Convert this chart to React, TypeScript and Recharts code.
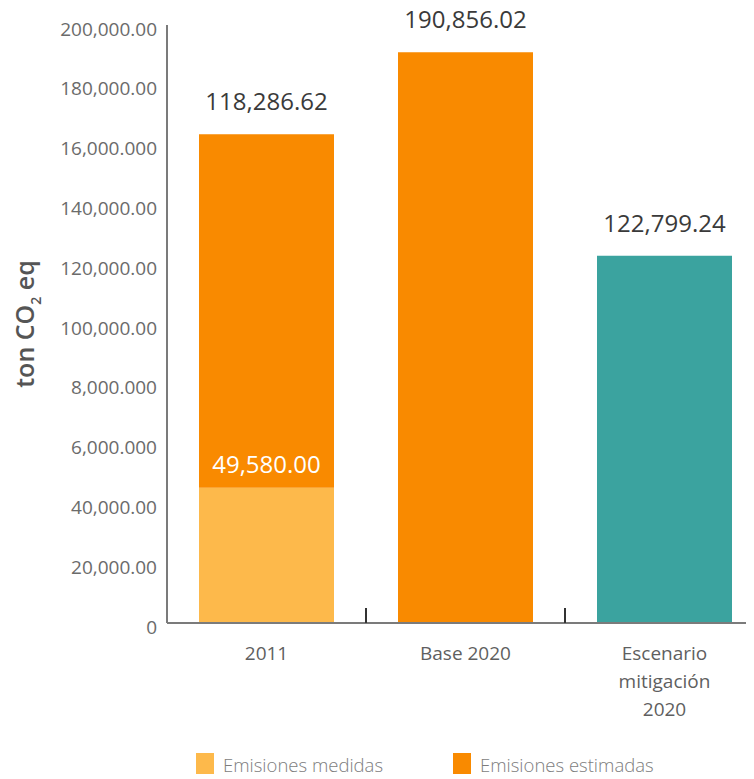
import { Bar, BarChart, Cell, LabelList, Legend, XAxis, YAxis } from "recharts"

const categories = ["2011", "Base 2020", "Escenario\nmitigación\n2020"]
const seriesNames = ["Emisiones medidas", "Emisiones estimadas"]
const medidas = [45200, 0, 0]
const estimadas = [118286.62, 190856.02, 122799.24]
const medidasLabels = ["49,580.00", "", ""]
const estimadasLabels = ["118,286.62", "190,856.02", "122,799.24"]
const estimadasColors = ["#F98A00", "#F98A00", "#3BA39F"]
const yTicks = [0, 20000, 40000, 60000, 80000, 100000, 120000, 140000, 160000, 180000, 200000]
const yTickLabels = [
  "0",
  "20,000.00",
  "40,000.00",
  "6,000.000",
  "8,000.000",
  "100,000.00",
  "120,000.00",
  "140,000.00",
  "16,000.000",
  "180,000.00",
  "200,000.00",
]

const X_TICK_MARGIN = 22

const data = categories.map((name, i) => ({
  name,
  medidas: medidas[i],
  estimadas: estimadas[i],
  medidasLabel: medidasLabels[i],
  estimadasLabel: estimadasLabels[i],
}))

const YTick = ({ x, y, payload }: any) => (
  <text x={x} y={y} dy={10.5} textAnchor="end" fill="#6b6b6b" fontSize={19} fontWeight={500}>
    {yTickLabels[yTicks.indexOf(payload.value)]}
  </text>
)

// category label + a small separator tick at the right edge of each band
const XTick = ({ x, y, payload, index, width, visibleTicksCount }: any) => {
  const lines = String(payload.value).split("\n")
  const half = payload.offset || width / visibleTicksCount / 2
  const axisY = y - X_TICK_MARGIN
  return (
    <g>
      {index < categories.length - 1 && (
        <line x1={x + half} x2={x + half} y1={axisY} y2={axisY - 15} stroke="#333" strokeWidth={2} />
      )}
      <text x={x} y={y} textAnchor="middle" fill="#5f5f5f" fontSize={19} fontWeight={500}>
        {lines.map((l, i) => (
          <tspan key={i} x={x} dy={i === 0 ? 15 : 27.8}>
            {l}
          </tspan>
        ))}
      </text>
    </g>
  )
}

const YLabel = ({ viewBox }: any) => {
  const cx = viewBox.x + 26
  const cy = viewBox.y + viewBox.height / 2
  return (
    <text
      x={cx}
      y={cy}
      transform={`rotate(-90, ${cx}, ${cy})`}
      textAnchor="middle"
      fill="#555"
      fontSize={25}
      fontWeight={600}
    >
      ton CO
      <tspan fontSize={14} dy={7}>
        2
      </tspan>
      <tspan dy={-7}> eq</tspan>
    </text>
  )
}

const LegendContent = ({ payload }: any) => {
  const items = [...(payload || [])].sort(
    (a: any, b: any) => seriesNames.indexOf(a.value) - seriesNames.indexOf(b.value)
  )
  return (
    <div style={{ display: "flex", height: 24 }}>
      {items.map((p: any, i: number) => (
        <div key={i} style={{ display: "flex", alignItems: "flex-start", width: i === 0 ? 257 : "auto" }}>
          <div style={{ width: 18, height: 21, background: p.color }} />
          <span
            style={{
              marginLeft: 9,
              fontSize: 18.5,
              lineHeight: "23px",
              fontWeight: 300,
              color: "#7d7d7d",
            }}
          >
            {p.value}
          </span>
        </div>
      ))}
    </div>
  )
}

export default function App() {
  return (
    <div
      style={{
        width: 746,
        marginTop: -8,
        overflow: "hidden",
        fontFamily: "'Open Sans', sans-serif",
      }}
    >
      <BarChart
        width={760}
        height={779}
        data={data}
        margin={{ top: 25, right: 4, left: 0, bottom: 2 }}
      >
        <XAxis
          dataKey="name"
          height={130}
          stroke="#7b7b7b"
          strokeWidth={2}
          tickLine={false}
          tickSize={0}
          tickMargin={X_TICK_MARGIN}
          interval={0}
          tick={<XTick />}
        />
        <YAxis
          width={159}
          domain={[0, 200000]}
          ticks={yTicks}
          tickLine={false}
          tickSize={0}
          tickMargin={10}
          stroke="#7b7b7b"
          strokeWidth={2}
          tick={<YTick />}
          label={<YLabel />}
        />
        <Legend
          verticalAlign="bottom"
          height={24}
          wrapperStyle={{ left: 188, width: 600 }}
          content={<LegendContent />}
        />
        <Bar
          dataKey="medidas"
          name={seriesNames[0]}
          stackId="a"
          fill="#FDB94B"
          barSize={135}
          isAnimationActive={false}
        >
          <LabelList
            dataKey="medidasLabel"
            position="top"
            offset={15}
            fill="#ffffff"
            fontSize={24}
            fontWeight={500}
          />
        </Bar>
        <Bar
          dataKey="estimadas"
          name={seriesNames[1]}
          stackId="a"
          fill="#F98A00"
          barSize={135}
          isAnimationActive={false}
        >
          {estimadasColors.map((c, i) => (
            <Cell key={i} fill={c} />
          ))}
          <LabelList
            dataKey="estimadasLabel"
            position="top"
            offset={24}
            fill="#3a3a3a"
            fontSize={24}
            fontWeight={500}
          />
        </Bar>
      </BarChart>
    </div>
  )
}
